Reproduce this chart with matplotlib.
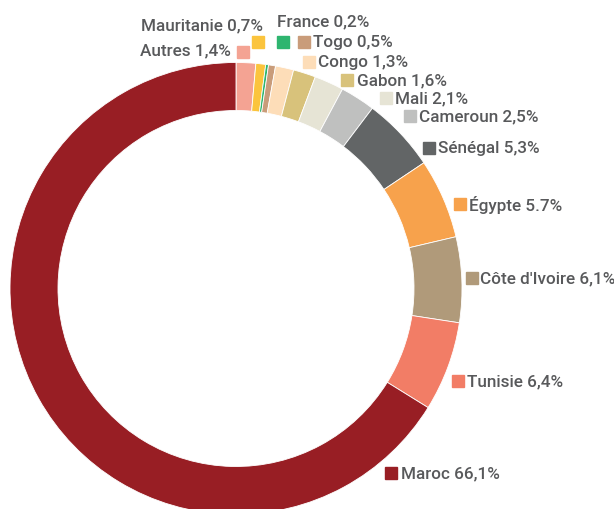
import matplotlib
matplotlib.use("Agg")
import matplotlib.pyplot as plt
from matplotlib import font_manager

# data, clockwise from 12 o'clock
pays = ["Autres", "Mauritanie", "France", "Togo", "Congo", "Gabon", "Mali",
        "Cameroun", "Sénégal", "Égypte", "Côte d'Ivoire", "Tunisie", "Maroc"]
parts = [1.4, 0.7, 0.2, 0.5, 1.3, 1.6, 2.1, 2.5, 5.3, 5.7, 6.1, 6.4, 66.1]
couleurs = ["#F4A393", "#FBC43D", "#2EB56F", "#C99C7A", "#FDDDB8", "#D8C27B",
            "#E6E4D5", "#BFC0BF", "#626566", "#F7A24C", "#B09A7A", "#F27D66",
            "#981E24"]

# label layout (pixels from top-left): marker centre, text anchor, alignment
marker_xy = [(243, 53), (258, 43), (283, 42.5), (304, 43), (309, 63), (347, 81),
             (386, 99), (410, 117), (429, 148.5), (460, 205), (472, 278.5),
             (457.5, 382), (391, 473.5)]
text_xy = [(231, 51), (263, 26), (277, 22), (313, 43), (318, 63), (357, 81),
           (395, 99), (419, 117), (438, 148.5), (469, 205), (480, 278.5),
           (467, 382), (401, 473.5)]
text_ha = ["right", "right", "left"] + ["left"] * 10

names = {f.name for f in font_manager.fontManager.ttflist}
police = "Liberation Sans Narrow" if "Liberation Sans Narrow" in names else "Roboto"

W, H = 614, 510
fig = plt.figure(figsize=(W / 100, H / 100), dpi=100)
ax = fig.add_axes([0, 0, 1, 1])

ax.pie(parts, colors=couleurs, startangle=90, counterclock=False,
       radius=226, center=(236, H - 289.5), frame=True,
       wedgeprops=dict(width=48, edgecolor="white", linewidth=0.6))
ax.set_xlim(0, W)
ax.set_ylim(0, H)
ax.set_aspect("equal")
ax.axis("off")

for nom, p, c, (mx, my), (tx, ty), ha in zip(pays, parts, couleurs, marker_xy,
                                              text_xy, text_ha):
    ax.add_patch(plt.Rectangle((mx - 6, H - my - 6), 12, 12, color=c,
                               zorder=3))
    lab = f"{nom} {p:.1f}%".replace(".", ",")
    if nom == "Égypte":
        lab = lab.replace(",", ".")
    ax.text(tx, H - ty, lab, ha=ha, va="center", fontsize=12.3,
            color="#58595B", family=police, weight="medium")

fig.savefig("out.png", dpi=100)
